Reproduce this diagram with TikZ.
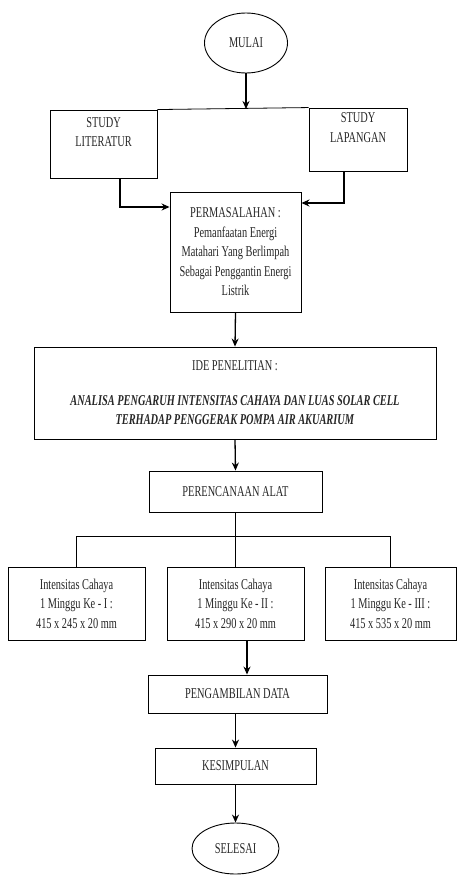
\documentclass[tikz,border=0pt]{standalone}
\usepackage{fontspec}
\setmainfont{Liberation Serif}[FakeStretch=0.69]
\usetikzlibrary{shapes.geometric,arrows.meta}
\begin{document}
\begin{tikzpicture}[x=1pt,y=-1pt,
  every node/.style={font=\fontsize{15}{19.5}\selectfont, text=black!85, align=center, inner sep=0pt},
  box/.style={draw, line width=0.9pt, rectangle, minimum width=#1},
  oval/.style={draw, line width=0.9pt, ellipse},
  conn/.style={line width=1.3pt},
  arr/.style={conn, -{Stealth[length=8pt,width=7pt]}},
  thin line/.style={line width=0.8pt}]
\useasboundingbox (0,0) rectangle (457,875);

\node[oval, minimum width=83pt, minimum height=60pt] (mulai) at (246,43) {MULAI};
\node[box=107pt, minimum height=68pt] (lit) at (103.5,144) {STUDY\\LITERATUR\\[4pt]};
\node[box=98pt, minimum height=63pt] (lap) at (358,139.5) {STUDY\\LAPANGAN\\[4pt]};
\node[box=131pt, minimum height=120pt] (perm) at (235.5,252) {PERMASALAHAN :\\Pemanfaatan Energi\\Matahari Yang Berlimpah\\Sebagai Penggantin Energi\\Listrik};
\node[box=402pt, minimum height=92pt] (ide) at (235,393) {IDE PENELITIAN :\\[15pt]\textbf{\textit{ANALISA PENGARUH INTENSITAS CAHAYA DAN LUAS SOLAR CELL}}\\\textbf{\textit{TERHADAP PENGGERAK POMPA AIR AKUARIUM}}};
\node[box=173pt, minimum height=41pt] (peren) at (235.5,491.5) {PERENCANAAN ALAT};
\node[box=137pt, minimum height=73pt] (b1) at (76.5,603.5) {Intensitas Cahaya\\1 Minggu Ke - I :\\415 x 245 x 20 mm};
\node[box=137pt, minimum height=73pt] (b2) at (235.5,603.5) {Intensitas Cahaya\\1 Minggu Ke - II :\\415 x 290 x 20 mm};
\node[box=131pt, minimum height=73pt] (b3) at (390.5,603.5) {Intensitas Cahaya\\1 Minggu Ke - III :\\415 x 535 x 20 mm};
\node[box=179pt, minimum height=38pt] (peng) at (237.5,694) {PENGAMBILAN DATA};
\node[box=161pt, minimum height=36pt] (kes) at (235.5,766) {KESIMPULAN};
\node[oval, minimum width=87pt, minimum height=51pt] (sel) at (235.5,848.5) {SELESAI};

% top split
\draw[thin line] (lit.north east) -- (lap.north west);
\coordinate (split) at (246,109);
\draw[arr] (mulai.south) -- (split);

% studies to permasalahan
\coordinate (litc) at (120,207);
\coordinate (lapc) at (344,203);
\draw[arr] (lit.south -| litc) -- (litc) -- (litc -| perm.west);
\draw[arr] (lap.south -| lapc) -- (lapc) -- (lapc -| perm.east);

\draw[arr] (perm.south) -- (ide.north);
\draw[arr] (ide.south) -- (peren.north);

% branches
\coordinate (bar) at (235.5,536);
\draw[thin line] (peren.south) -- (bar);
\draw[thin line] (b1.north |- bar) -- (b3.north |- bar);
\draw[thin line] (b1.north |- bar) -- (b1.north);
\draw[thin line] (b2.north |- bar) -- (b2.north);
\draw[thin line] (b3.north |- bar) -- (b3.north);

\coordinate (b2out) at (247,640);
\draw[arr] (b2out) -- (b2out |- peng.north);
\draw[arr] (peng.south -| kes) -- (kes.north);
\draw[arr] (kes.south) -- (sel.north);
\end{tikzpicture}
\end{document}
